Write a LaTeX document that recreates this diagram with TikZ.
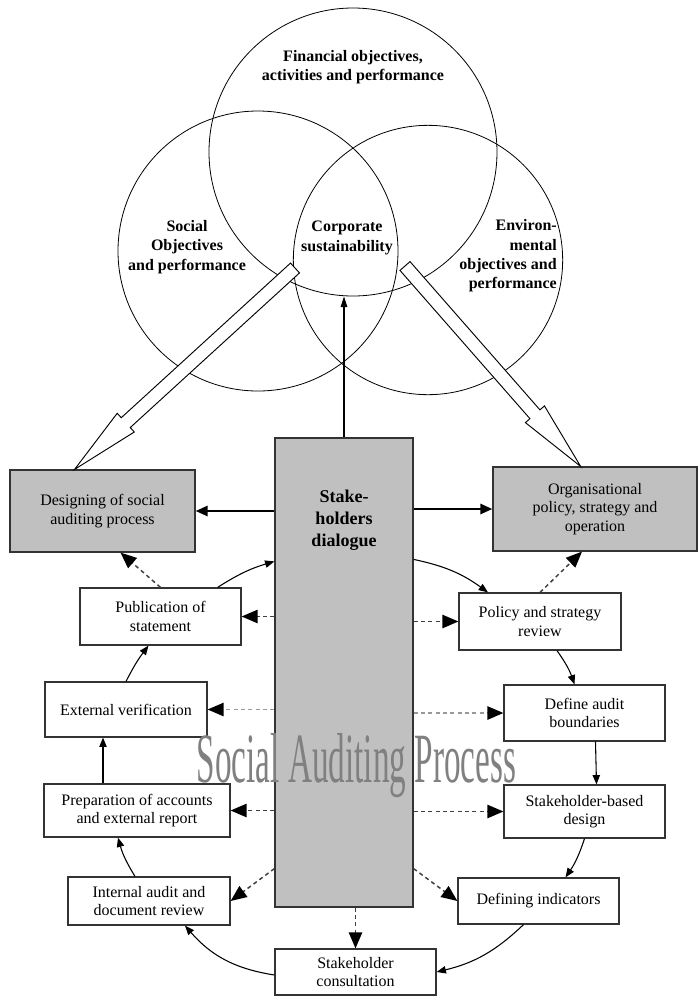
\documentclass[tikz,border=0pt]{standalone}
\usepackage{fontspec}
\setmainfont{Liberation Serif}
\usetikzlibrary{arrows.meta,calc}
\definecolor{boxgray}{RGB}{192,192,192}

\begin{document}
\begin{tikzpicture}[x=0.75pt,y=-0.75pt,
  every node/.style={font=\fontsize{12}{14}\selectfont},
  ring/.style={circle,draw,line width=0.6pt,inner sep=0pt},
  ringtext/.style={font=\bfseries\fontsize{12}{14.5}\selectfont,align=center,inner sep=0pt},
  whitebox/.style={draw=black!80,line width=0.9pt,fill=white,align=center,inner sep=1pt},
  graybox/.style={whitebox,fill=boxgray},
  cyc/.style={line width=0.8pt,-{Triangle[length=7pt,width=5.5pt]}},
  mainlink/.style={line width=2pt,-{Triangle[length=9pt,width=7.5pt]}},
  dlink/.style={line width=1.1pt,black!75,dash pattern=on 3pt off 2.5pt,-{Triangle[length=12pt,width=10pt,color=black]}},
  glink/.style={dlink,black!40}]

\useasboundingbox (0,0) rectangle (699,997);

% the three circles
\node[ring,minimum size=216pt] (fin) at (353,152) {};
\node[ring,minimum size=210pt] (soc) at (258,251) {};
\node[ring,minimum size=202pt] (env) at (428,260) {};

% boxes
\node[graybox,minimum width=103.5pt,minimum height=351.75pt] (talk) at (344,672.5) {};
\node[font=\bfseries\fontsize{13.5}{16.5}\selectfont,align=center] (talktxt) at (344,520) {Stake-\\holders\\dialogue};
\node[graybox,minimum width=138.75pt,minimum height=61.5pt] (design) at (102.5,511) {Designing of social\\auditing process};
\node[graybox,minimum width=153pt,minimum height=63pt] (orgpol) at (595,509) {Organisational\\policy, strategy and\\operation};

\node[whitebox,minimum width=120.75pt,minimum height=42.75pt] (publ) at (160.5,616.5) {Publication of\\statement};
\node[whitebox,minimum width=121.5pt,minimum height=41.25pt] (extver) at (126,709.5) {External verification};
\node[whitebox,minimum width=139.5pt,minimum height=39.75pt] (prep) at (137,810.5) {Preparation of accounts\\and external report};
\node[whitebox,minimum width=121.5pt,minimum height=36pt] (intaud) at (149,901) {Internal audit and\\document review};
\node[whitebox,minimum width=120.75pt,minimum height=34.5pt] (consult) at (355.5,972) {Stakeholder\\consultation};
\node[whitebox,minimum width=121.5pt,minimum height=42.75pt] (polrev) at (540,621.5) {Policy and strategy\\review};
\node[whitebox,minimum width=120.75pt,minimum height=42pt] (bound) at (584.5,713) {Define audit\\boundaries};
\node[whitebox,minimum width=120.75pt,minimum height=39.75pt] (sbdesign) at (584.5,811.5) {Stakeholder-based\\design};
\node[whitebox,minimum width=120.75pt,minimum height=34.5pt] (indic) at (538.5,901) {Defining indicators};

% hollow arrows out of the circles
\coordinate (lt) at (295,268);
\coordinate (lh) at ($(design.north west)!0.35!(design.north east)$);
\coordinate (lb) at ($(lh)!52pt!(lt)$);
\draw[line width=0.7pt,fill=white] ($(lt)!5pt!90:(lh)$) -- ($(lb)!5pt!-90:(lt)$) -- ($(lb)!9.5pt!-90:(lt)$) -- (lh) -- ($(lb)!9.5pt!90:(lt)$) -- ($(lb)!5pt!90:(lt)$) -- ($(lt)!5pt!-90:(lh)$) -- cycle;

\coordinate (rt) at (405,266);
\coordinate (rh) at ($(orgpol.north west)!0.43!(orgpol.north east)$);
\coordinate (rb) at ($(rh)!52pt!(rt)$);
\draw[line width=0.7pt,fill=white] ($(rt)!5pt!90:(rh)$) -- ($(rb)!5pt!-90:(rt)$) -- ($(rb)!9.5pt!-90:(rt)$) -- (rh) -- ($(rb)!9.5pt!90:(rt)$) -- ($(rb)!5pt!90:(rt)$) -- ($(rt)!5pt!-90:(rh)$) -- cycle;

% circle texts
\node[ringtext] (fintxt) at (353,67) {Financial objectives,\\activities and performance};
\node[ringtext] (soctxt) at (187,247) {Social\\Objectives\\and performance};
\node[ringtext] (cortxt) at (347,238) {Corporate\\sustainability};
\node[ringtext,align=right,anchor=east] (envtxt) at (557,256) {Environ-\\mental\\objectives and\\performance};

% main links
\draw[mainlink] (talk.west |- design.east) -- (design.east);
\draw[mainlink] (talk.east |- orgpol.west) -- (orgpol.west);
\draw[line width=0.8pt,-{Triangle[length=8pt,width=5pt]}] (talk.north) -- (talk.north |- fin.south);

% the auditing cycle
\draw[cyc] ($(talk.north east)+(0,122)$) to[bend left=12] ($(polrev.north)+(-52,0)$);
\draw[cyc] ($(polrev.south)+(17,0)$) to[bend left=8] ($(bound.north)+(-10,0)$);
\draw[cyc] ($(bound.south)+(11,0)$) -- ($(sbdesign.north)+(12,0)$);
\draw[cyc] (sbdesign.south) to[bend left=8] ($(indic.north)+(27,0)$);
\draw[cyc] ($(indic.south)+(-15,0)$) to[bend left=15] (consult.east);
\draw[cyc] ($(consult.west)+(0,3)$) to[bend left=20] ($(intaud.south)+(36,0)$);
\draw[cyc] ($(intaud.north)+(-14,0)$) to[bend left=8] ($(prep.south)+(-19,0)$);
\draw[cyc] ($(prep.north)+(-34,0)$) -- ($(extver.south)+(-23,0)$);
\draw[cyc] (extver.north) to[bend left=5] ($(publ.south)+(-12,0)$);
\draw[cyc] ($(publ.north east)+(-24,0)$) to[bend left=8] ($(talk.north west)+(0,124)$);

% dialogue links
\draw[dlink] (publ.north) -- ($(design.south)+(18,0)$);
\draw[dlink] (polrev.north) -- ($(orgpol.south)+(-13,0)$);
\draw[dlink] (talk.west |- publ.east) -- (publ.east);
\draw[dlink] (talk.east |- polrev.west) -- (polrev.west);
\draw[glink] (talk.west |- extver.east) -- (extver.east);
\draw[glink] (talk.east |- bound.west) -- (bound.west);
\draw[dlink] (talk.west |- prep.east) -- (prep.east);
\draw[dlink] (talk.east |- sbdesign.west) -- (sbdesign.west);
\draw[dlink] ($(talk.south west)+(0,-39)$) -- (intaud.east);
\draw[dlink] ($(talk.south east)+(0,-39)$) -- (indic.west);
\draw[dlink] (consult.north |- talk.south) -- (consult.north);

\node[font=\fontsize{53}{60}\selectfont,text=black!50,xscale=0.47,anchor=base,inner sep=0pt] (sap) at (356.5,782) {Social Auditing Process};

\end{tikzpicture}
\end{document}
